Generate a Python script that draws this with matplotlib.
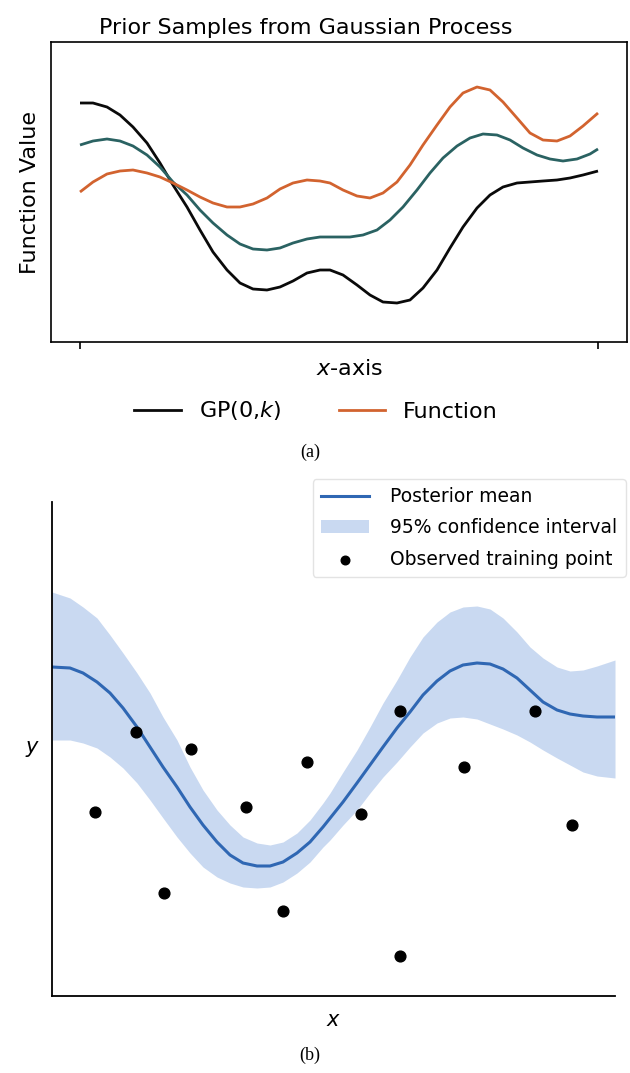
"""
两幅 GP 示意图：
  (a) 高斯过程先验采样曲线
  (b) 后验均值 + 95% 置信带 + 训练点
"""

import matplotlib.pyplot as plt
from matplotlib.lines import Line2D

FIG_W_PX = 630
FIG_H_PX = 1073
DPI = 100

# ---------- (a) 先验采样（读图坐标，任意单位） ----------
BLACK_X = [0, 13, 27, 40, 53, 67, 80, 93, 107, 120, 133, 147, 160, 173, 187, 200, 213, 227, 240, 250,
           263, 277, 290, 303, 317, 330, 343, 357, 370, 383, 397, 410, 423, 437, 450, 463, 477, 490, 503, 518]
BLACK_Y = [239, 239, 235, 227, 215, 199, 179, 157, 135, 112, 90, 72, 59, 53, 52, 55, 61, 69, 72, 72,
           67, 57, 47, 40, 39, 42, 54, 72, 94, 115, 134, 147, 155, 159, 160, 161, 162, 164, 167, 171]

TEAL_X = [0, 13, 27, 40, 53, 67, 80, 93, 107, 120, 133, 147, 160, 173, 187, 200, 213, 227, 240, 250,
          270, 283, 297, 310, 323, 337, 350, 363, 377, 390, 403, 417, 430, 443, 457, 470, 483, 497, 510, 518]
TEAL_Y = [197, 201, 203, 201, 196, 187, 175, 160, 147, 132, 119, 107, 98, 93, 92, 94, 99, 103, 105, 105,
          105, 107, 112, 122, 135, 152, 169, 184, 196, 204, 208, 207, 202, 194, 187, 183, 181, 183, 188, 193]

ORANGE_X = [0, 13, 27, 40, 53, 67, 80, 93, 107, 120, 133, 147, 160, 173, 187, 200, 213, 227, 240, 250,
            263, 277, 290, 303, 317, 330, 343, 357, 370, 383, 397, 410, 423, 437, 450, 463, 477, 490, 503, 518]
ORANGE_Y = [150, 160, 168, 171, 172, 169, 165, 159, 152, 145, 139, 135, 135, 138, 144, 153, 159, 162, 161, 159,
            152, 146, 144, 149, 160, 177, 197, 217, 235, 249, 255, 252, 240, 224, 209, 202, 201, 206, 216, 229]

A_XTICKS = [0, 518]

# ---------- (b) 后验 ----------
MEAN_X = [0, 18, 31, 45, 58, 71, 85, 98, 111, 125, 138, 151, 165, 178, 191, 205, 218, 231, 245, 258,
          271, 291, 305, 318, 331, 345, 358, 371, 385, 398, 411, 425, 438, 451, 465, 478, 491, 505, 518, 531,
          545, 563]
MEAN_Y = [329, 328, 323, 314, 303, 288, 269, 249, 229, 209, 189, 171, 154, 141, 133, 130, 130, 134, 143, 154,
          169, 194, 213, 231, 249, 268, 284, 301, 315, 325, 331, 333, 332, 327, 318, 306, 294, 286, 282, 280,
          279, 279]

BAND_X = [0, 18, 31, 45, 58, 71, 85, 98, 111, 125, 138, 151, 165, 178, 191, 205, 218, 231, 245, 258,
          271, 278, 291, 305, 318, 331, 345, 358, 371, 385, 398, 411, 425, 438, 451, 465, 478, 491, 505, 518,
          531, 545, 563]
BAND_HI = [404, 398, 389, 378, 361, 343, 323, 303, 279, 256, 229, 206, 186, 171, 159, 153, 151, 154, 163, 176,
           193, 203, 224, 246, 269, 293, 316, 339, 359, 374, 384, 389, 390, 387, 378, 364, 349, 338, 329, 325,
           326, 330, 336]
BAND_LO = [256, 256, 253, 248, 239, 228, 213, 196, 178, 159, 143, 129, 119, 113, 109, 108, 109, 114, 123, 134,
           149, 156, 171, 186, 203, 219, 234, 249, 263, 273, 278, 279, 277, 272, 267, 261, 254, 246, 238, 231,
           224, 220, 218]

PTS_X = [43, 84, 139, 194, 255, 112, 348, 309, 412, 483, 520, 231, 348]
PTS_Y = [184, 264, 247, 189, 234, 103, 285, 182, 229, 285, 171, 85, 40]

C_BLACK = "#0a0a0a"
C_TEAL = "#2a6262"
C_ORANGE = "#d2632f"
C_MEAN = "#2f67b3"
C_BAND = "#c9d9f1"


def _rect(left_px, top_px, right_px, bottom_px):
    return [left_px / FIG_W_PX, 1 - bottom_px / FIG_H_PX,
            (right_px - left_px) / FIG_W_PX, (bottom_px - top_px) / FIG_H_PX]


def main():
    plt.rcParams["font.family"] = ["DejaVu Sans"]
    plt.rcParams["mathtext.fontset"] = "dejavusans"
    fig = plt.figure(figsize=(FIG_W_PX / DPI, FIG_H_PX / DPI), dpi=DPI)

    # ---------- (a) ----------
    ax = fig.add_axes(_rect(51, 42, 627, 342))
    for xs, ys, c in [(BLACK_X, BLACK_Y, C_BLACK), (TEAL_X, TEAL_Y, C_TEAL),
                      (ORANGE_X, ORANGE_Y, C_ORANGE)]:
        ax.plot(xs, ys, color=c, lw=2.0, solid_capstyle="butt", solid_joinstyle="round")
    ax.set_xlim(-29, 547)
    ax.set_ylim(0, 300)
    ax.set_xticks(A_XTICKS)
    ax.set_xticklabels([])
    ax.set_yticks([])
    ax.tick_params(axis="x", length=5, width=1.2)
    for s in ax.spines.values():
        s.set_linewidth(1.2)
    ax.set_title("Prior Samples from Gaussian Process", fontsize=16, pad=6, x=0.443)
    ax.set_ylabel("Function Value", fontsize=16, labelpad=8)
    ax.set_xlabel("$x$-axis", fontsize=16, labelpad=4, x=0.519)
    handles = [Line2D([], [], color=C_BLACK, lw=2.0), Line2D([], [], color=C_ORANGE, lw=2.0)]
    ax.legend(handles, ["GP(0,$k$)", "Function"], loc="center", ncol=2,
              bbox_to_anchor=(0.46, -0.23), frameon=False, fontsize=16,
              handlelength=2.1, handletextpad=0.8, columnspacing=2.6)
    fig.text(310 / FIG_W_PX, 1 - 452 / FIG_H_PX, "(a)", ha="center", va="center",
             family="Liberation Serif", fontsize=13)

    # ---------- (b) ----------
    bx = fig.add_axes(_rect(52, 502, 615, 996))
    bx.fill_between(BAND_X, BAND_LO, BAND_HI, color=C_BAND, lw=0,
                    label="95% confidence interval")
    bx.plot(MEAN_X, MEAN_Y, color=C_MEAN, lw=2.2, label="Posterior mean")
    bx.scatter(PTS_X, PTS_Y, s=60, color="black", zorder=3, label="Observed training point")
    bx.set_xlim(0, 563)
    bx.set_ylim(0, 494)
    bx.set_xticks([])
    bx.set_yticks([])
    bx.spines["top"].set_visible(False)
    bx.spines["right"].set_visible(False)
    bx.spines["left"].set_linewidth(1.3)
    bx.spines["bottom"].set_linewidth(1.3)
    bx.set_xlabel("$x$", fontsize=15, labelpad=10)
    bx.set_ylabel("$y$", fontsize=15, labelpad=14, rotation=0, va="center")
    h, l = bx.get_legend_handles_labels()
    order = [l.index("Posterior mean"), l.index("95% confidence interval"),
             l.index("Observed training point")]
    leg = bx.legend([h[i] for i in order], [l[i] for i in order], loc="upper right",
                    bbox_to_anchor=(1.036, 1.066), fontsize=13.5, frameon=True,
                    fancybox=True, handlelength=2.55, handletextpad=1.15,
                    borderpad=0.45, labelspacing=0.65, markerscale=0.8)
    leg.get_frame().set_edgecolor("#dddddd")
    fig.text(310 / FIG_W_PX, 1 - 1055 / FIG_H_PX, "(b)", ha="center", va="center",
             family="Liberation Serif", fontsize=13)

    fig.savefig("out.png", dpi=DPI)
    plt.close(fig)


if __name__ == "__main__":
    main()
